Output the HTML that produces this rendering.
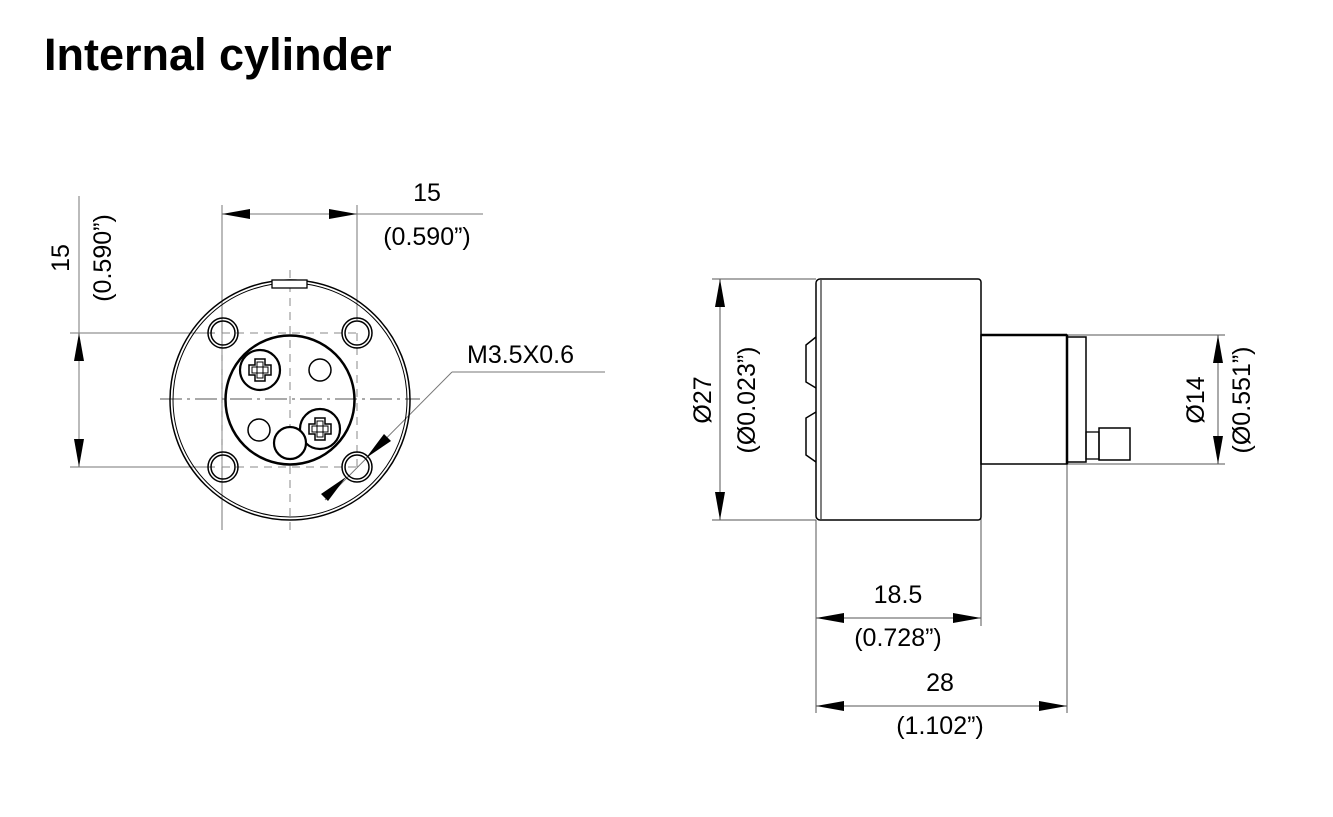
<!DOCTYPE html>
<html><head><meta charset="utf-8"><style>
html,body{margin:0;padding:0;background:#fff;}
svg{display:block;}
text{font-family:"Liberation Sans",sans-serif;fill:#000;}
</style></head><body>
<svg width="1333" height="817" viewBox="0 0 1333 817" xmlns="http://www.w3.org/2000/svg">
<text x="44" y="70" font-size="45" font-weight="bold">Internal cylinder</text>

<defs>
<g id="cross" fill="none" stroke="#000">
  <path d="M-5,-11h10v6h6v10h-6v6h-10v-6h-6v-10h6z" stroke-width="1.5"/>
  <path d="M-3,-8h6v16h-6z M-8,-3h16v6h-16z" stroke-width="1"/>
</g>
</defs>

<!-- FRONT VIEW -->
<g fill="none" stroke="#000">
  <g stroke="#777" stroke-width="1">
    <line x1="222" y1="205" x2="222" y2="530"/>
    <line x1="357" y1="205" x2="357" y2="320"/>
    <line x1="222" y1="214" x2="483" y2="214"/>
    <line x1="70" y1="333" x2="215" y2="333"/>
    <line x1="70" y1="467" x2="215" y2="467"/>
    <line x1="79" y1="196" x2="79" y2="467"/>
    <line x1="325" y1="500" x2="452" y2="372"/>
    <line x1="452" y1="372" x2="605" y2="372"/>
  </g>
  <g stroke="#555" stroke-width="1" stroke-dasharray="22,5,3,5">
    <line x1="160" y1="399" x2="420" y2="399"/>
  </g>
  <g stroke="#888" stroke-width="1" stroke-dasharray="8,6">
    <line x1="290" y1="270" x2="290" y2="530"/>
    <line x1="222" y1="333" x2="357" y2="333"/>
    <line x1="222" y1="467" x2="357" y2="467"/>
    <line x1="222" y1="333" x2="222" y2="467"/>
    <line x1="357" y1="333" x2="357" y2="467"/>
  </g>
  <circle cx="290" cy="400" r="120" stroke-width="1.5"/>
  <circle cx="290" cy="400" r="117" stroke-width="1"/>
  <rect x="272" y="280" width="35" height="8" stroke-width="1.3" fill="#fff"/>
  <g stroke-width="1.5">
    <circle cx="223" cy="333" r="15"/><circle cx="223" cy="333" r="12"/>
    <circle cx="357" cy="333" r="15"/><circle cx="357" cy="333" r="12"/>
    <circle cx="223" cy="467" r="15"/><circle cx="223" cy="467" r="12"/>
    <circle cx="357" cy="467" r="15"/><circle cx="357" cy="467" r="12"/>
  </g>
  <circle cx="290" cy="400" r="64.5" stroke-width="2.5"/>
  <circle cx="260" cy="370" r="20" stroke-width="2.2" fill="#fff"/>
  <circle cx="320" cy="370" r="11" stroke-width="1.5"/>
  <circle cx="259" cy="430" r="11" stroke-width="1.5"/>
  <circle cx="320" cy="429" r="20" stroke-width="2.2" fill="#fff"/>
  <circle cx="290" cy="443" r="16" stroke-width="2.2" fill="#fff"/>
</g>
<use href="#cross" x="260" y="370"/>
<use href="#cross" x="320" y="429"/>
<g fill="#000">
  <polygon points="222,214 250,209 250,219"/>
  <polygon points="357,214 329,209 329,219"/>
  <polygon points="79,333 74,361 84,361"/>
  <polygon points="79,467 74,439 84,439"/>
  <polygon points="366,458 384,434 391,441"/>
  <polygon points="346,477 328,501 321,494"/>
</g>
<text x="427" y="201" font-size="25" text-anchor="middle">15</text>
<text x="427" y="245" font-size="25" text-anchor="middle">(0.590”)</text>
<text x="467" y="363" font-size="25">M3.5X0.6</text>
<text transform="translate(69,258) rotate(-90)" font-size="25" text-anchor="middle">15</text>
<text transform="translate(111,258) rotate(-90)" font-size="25" text-anchor="middle">(0.590”)</text>

<!-- SIDE VIEW -->
<g fill="none" stroke="#000">
  <g stroke="#555" stroke-width="1">
    <line x1="712" y1="279" x2="816" y2="279"/>
    <line x1="712" y1="520" x2="816" y2="520"/>
    <line x1="720" y1="279" x2="720" y2="520"/>
    <line x1="1067" y1="335" x2="1225" y2="335"/>
    <line x1="1067" y1="464" x2="1225" y2="464"/>
    <line x1="1218" y1="335" x2="1218" y2="464"/>
    <line x1="816" y1="520" x2="816" y2="713"/>
    <line x1="981" y1="464" x2="981" y2="626"/>
    <line x1="1067" y1="464" x2="1067" y2="713"/>
    <line x1="816" y1="618" x2="981" y2="618"/>
    <line x1="816" y1="706" x2="1067" y2="706"/>
  </g>
  <path d="M820,279H978a3,3 0 0 1 3,3V517a3,3 0 0 1 -3,3H820a4,4 0 0 1 -4,-4V283a4,4 0 0 1 4,-4z" stroke-width="1.5"/>
  <line x1="821" y1="280" x2="821" y2="519" stroke-width="1"/>
  <path d="M816,337L806,345V382L816,388" stroke-width="1.5"/>
  <path d="M816,412L806,418V455L816,462" stroke-width="1.5"/>
  <rect x="981" y="335" width="86" height="129" stroke-width="1.5"/>
  <line x1="981" y1="335" x2="1067" y2="335" stroke-width="2.5"/>
  <line x1="1067" y1="335" x2="1067" y2="464" stroke-width="2.5"/>
  <rect x="1067" y="337" width="19" height="125" stroke-width="1.5"/>
  <rect x="1086" y="432" width="13" height="27" stroke-width="1.3"/>
  <rect x="1099" y="428" width="31" height="32" stroke-width="1.5"/>
</g>
<g fill="#000">
  <polygon points="720,279 715,307 725,307"/>
  <polygon points="720,520 715,492 725,492"/>
  <polygon points="1218,335 1213,363 1223,363"/>
  <polygon points="1218,464 1213,436 1223,436"/>
  <polygon points="816,618 844,613 844,623"/>
  <polygon points="981,618 953,613 953,623"/>
  <polygon points="816,706 844,701 844,711"/>
  <polygon points="1067,706 1039,701 1039,711"/>
</g>
<text transform="translate(711,400) rotate(-90)" font-size="25" text-anchor="middle">Ø27</text>
<text transform="translate(755,400) rotate(-90)" font-size="25" text-anchor="middle">(Ø0.023”)</text>
<text transform="translate(1204,400) rotate(-90)" font-size="25" text-anchor="middle">Ø14</text>
<text transform="translate(1250,400) rotate(-90)" font-size="25" text-anchor="middle">(Ø0.551”)</text>
<text x="898" y="603" font-size="25" text-anchor="middle">18.5</text>
<text x="898" y="646" font-size="25" text-anchor="middle">(0.728”)</text>
<text x="940" y="691" font-size="25" text-anchor="middle">28</text>
<text x="940" y="734" font-size="25" text-anchor="middle">(1.102”)</text>
</svg>
</body></html>
